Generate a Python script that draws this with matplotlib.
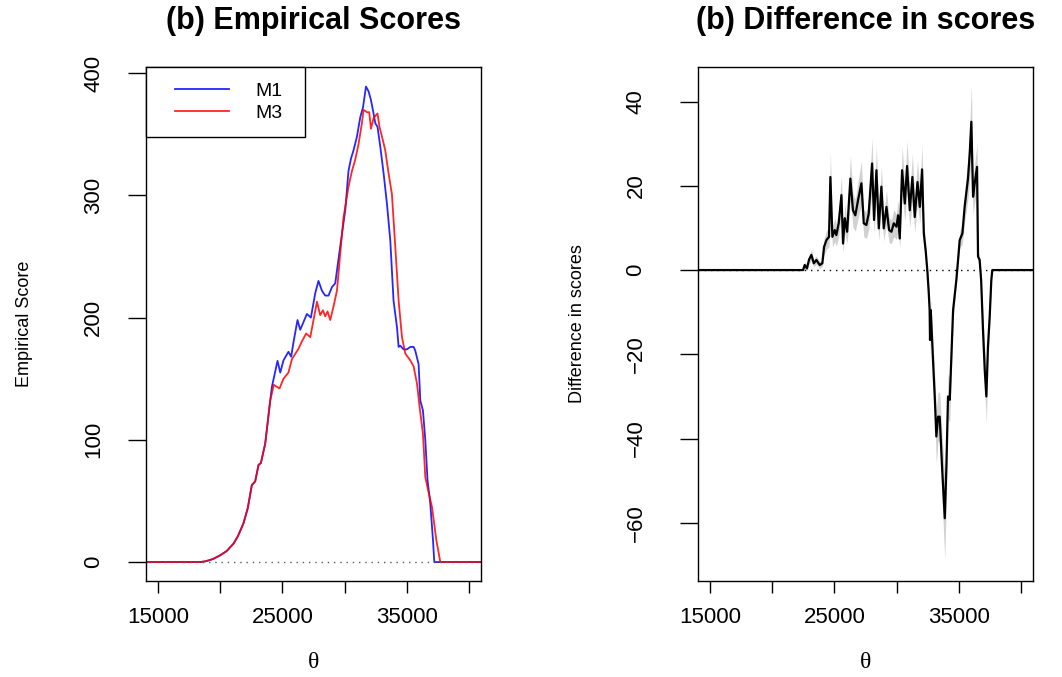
import matplotlib
matplotlib.use("Agg")
import matplotlib.pyplot as plt
from matplotlib.lines import Line2D
from matplotlib.legend_handler import HandlerLine2D

plt.rcParams['font.family'] = ['Liberation Sans', 'DejaVu Sans']

# panel 1: empirical scores for the two models
theta_m1 = [14000, 18360, 18800, 19400, 19980, 20500, 21050, 21400, 21850, 22200,
            22530, 22800, 23070, 23260, 23610,
            24010, 24150, 24600, 24820, 25080, 25480, 25700, 25890, 26210, 26430,
            26970, 27290, 27640, 27900, 28180, 28440, 28710, 28990, 29250, 29650,
            30060, 30320, 30520, 30730, 31000, 31270, 31490, 31730, 31940, 32130,
            32340, 32480, 32660, 32880, 33150, 33420, 33690, 33950, 34230, 34360,
            34490, 34760, 35030, 35300, 35570, 35700, 35970, 36110, 36320, 36510,
            36690, 36910, 37130, 37235, 41000]
score_m1 = [0, 0, 0.6, 2.5, 5.5, 9, 15, 21, 31.5, 44,
            63, 66, 79.5, 81, 97,
            132, 143.5, 164.6, 155, 165, 172, 168, 180, 198, 190,
            203, 200, 220, 230, 222, 218, 218, 225, 228, 258,
            288, 320, 330, 337, 348, 364, 372, 389, 385, 378,
            367, 359, 356, 340, 318, 293, 263, 214, 192, 176,
            177, 174, 174, 176, 176, 173, 162, 132, 124, 100,
            67, 48, 18, 0, 0]

theta_m3 = [14000, 18360, 18800, 19400, 19980, 20500, 21050, 21400, 21850, 22200,
            22530, 22800, 23070, 23260, 23610,
            24010, 24300, 24760, 25080, 25480, 25760, 26290, 26590, 26910, 27240,
            27500, 27780, 28040, 28260, 28440, 28630, 28850, 29110, 29390, 29650,
            29920, 30320, 30600, 30860, 31130, 31400, 31530, 31810, 31990, 32130,
            32340, 32480, 32660, 32820, 33020, 33280, 33550, 33820, 34090, 34360,
            34630, 34900, 35300, 35570, 35840, 36050, 36320, 36510, 36690, 37050,
            37400, 37720, 41000]
score_m3 = [0, 0, 0.6, 2.5, 5.5, 9, 15, 21, 31.5, 44,
            63, 66, 79.5, 81, 97,
            132, 145, 142, 150, 155, 166, 174.5, 181, 187, 184,
            198, 213, 202, 206, 201, 205, 198, 209, 222, 252,
            282, 307, 320, 329, 342, 359, 370, 368, 368, 354.5,
            363, 365, 367, 356, 348, 337, 318, 301, 258, 214,
            184, 170.5, 165, 160, 146, 127, 105, 69.5, 61, 45,
            18, 0, 0]

# panel 2: difference in scores with its band half-width
theta_diff = [14000, 22466, 22600, 22780, 22950, 23140, 23330, 23540, 23810, 24020,
              24160, 24350, 24560, 24670, 24830, 25020, 25150, 25340, 25560, 25690,
              25830, 26020, 26280, 26490, 26680, 26900, 27170, 27360, 27570, 27760,
              28030, 28190, 28380, 28570, 28780, 28970, 29190, 29400, 29590, 29780,
              29990, 30130, 30260, 30450, 30670, 30850, 31070, 31280, 31470, 31690,
              31880, 32060, 32200, 32360, 32500, 32600, 32670, 32700, 32760, 32940,
              33080, 33210, 33350, 33480, 33670, 33890, 34020, 34150, 34290, 34420,
              34560, 34820, 34960, 35090, 35310, 35490, 35760, 35900, 36030, 36170,
              36300, 36490, 36570, 36700, 36820, 36970, 37110, 37240, 37370, 37510,
              37640, 37720, 41000]
score_diff = [0, 0, 1.2, 0.4, 2.5, 3.6, 1.6, 2.4, 1.2, 1.6,
              5.5, 7.1, 7.9, 22.1, 7.9, 9.5, 8.3, 11.1, 17.8, 6.3,
              12.3, 9.1, 21.7, 14.2, 13.0, 16.6, 20.6, 11.1, 10.7, 13.4,
              25.3, 11.9, 23.7, 9.9, 19.8, 9.9, 15.0, 9.5, 9.1, 11.1,
              10.3, 13.0, 7.5, 23.7, 15.8, 24.7, 14.2, 22.1, 12.6, 20.9,
              15.0, 23.9, 8.7, 4.3, -0.8, -5.5, -9.5, -16.6, -9.5, -21.3,
              -30, -39.5, -34.8, -34.8, -46.7, -58.9, -46.7, -30, -30.8, -20.6,
              -9.5, -2.4, 2.4, 7.1, 8.7, 15, 21.7, 27.7, 35.2, 17.4,
              20.6, 24.5, 3.2, 2.4, -2.4, -14.2, -23.7, -30, -18.2, -11,
              -2.4, 0, 0]
diff_halfwidth = [0, 0, 0.8, 0.6, 1.0, 1.2, 0.8, 1.0, 0.8, 0.8,
                  2.0, 2.2, 2.4, 6.0, 2.4, 2.8, 2.6, 3.2, 4.5, 2.2,
                  3.4, 2.8, 5.5, 4.0, 3.8, 4.4, 5.2, 3.2, 3.2, 3.8,
                  6.0, 3.4, 5.8, 3.0, 5.0, 3.0, 4.0, 3.0, 2.8, 3.2,
                  3.0, 3.6, 2.4, 5.8, 4.2, 6.0, 4.0, 5.5, 3.6, 5.2,
                  4.0, 5.8, 2.8, 1.6, 1.0, 1.6, 2.4, 3.6, 2.4, 4.2,
                  5.2, 6.4, 5.8, 5.8, 7.6, 9.8, 7.6, 5.2, 5.2, 4.0,
                  2.4, 1.0, 1.0, 2.0, 2.4, 3.6, 4.8, 6.2, 8.8, 4.2,
                  4.6, 5.4, 1.2, 1.0, 1.0, 3.0, 4.6, 6.2, 3.8, 2.4,
                  1.0, 0, 0]

x_ticks = [15000, 20000, 25000, 30000, 35000, 40000]
x_ticklabels = ['15000', '', '25000', '', '35000', '']
y_ticks_scores = [0, 100, 200, 300, 400]
y_ticks_diff = [-60, -40, -20, 0, 20, 40]

fig = plt.figure(figsize=(10.62, 6.77), dpi=100)
ax1 = fig.add_axes([146 / 1062, 96 / 677, 335 / 1062, 514 / 677])
ax2 = fig.add_axes([698 / 1062, 96 / 677, 335 / 1062, 514 / 677])

# left panel
ax1.plot(theta_m1, score_m1, color='blue', lw=1.3, alpha=0.85, label='M1')
ax1.plot(theta_m3, score_m3, color='red', lw=1.3, alpha=0.85, label='M3')
ax1.axhline(0, color='0.35', lw=1, ls=(0, (1, 3.5)))
ax1.set_ylim(-15.5, 405)
ax1.set_yticks(y_ticks_scores)
ax1.set_ylabel('Empirical Score', fontsize=13)
ax1.yaxis.set_label_coords(-0.364, 0.5)
ax1.set_title('(b) Empirical Scores', fontsize=22, fontweight='bold', pad=27)
ax1.tick_params(axis='y', pad=17)

leg = ax1.legend(loc='upper left', bbox_to_anchor=(0, 0, 0.4746, 1), mode='expand',
                 borderaxespad=0, fontsize=14, handlelength=3.5, handletextpad=1.34,
                 borderpad=0.77, labelspacing=0.25, fancybox=False, framealpha=1,
                 edgecolor='black', handler_map={Line2D: HandlerLine2D(xpad=0.72)})
leg.get_frame().set_linewidth(1.0)

# right panel
lower = [s - h for s, h in zip(score_diff, diff_halfwidth)]
upper = [s + h for s, h in zip(score_diff, diff_halfwidth)]
ax2.fill_between(theta_diff, lower, upper, color='0.82', lw=0)
ax2.plot(theta_diff, score_diff, color='black', lw=1.6)
ax2.axhline(0, color='black', lw=1, ls=(0, (1, 3.5)))
ax2.set_ylim(-73.8, 48.2)
ax2.set_yticks(y_ticks_diff)
ax2.set_ylabel('Difference in scores', fontsize=13)
ax2.yaxis.set_label_coords(-0.361, 0.5)
ax2.set_title('(b) Difference in scores', fontsize=22, fontweight='bold', pad=27)
ax2.tick_params(axis='y', pad=24)

for ax in (ax1, ax2):
    ax.set_xlim(14000, 41000)
    ax.set_xticks(x_ticks)
    ax.set_xticklabels(x_ticklabels)
    ax.tick_params(axis='x', direction='out', length=8.4, width=1, pad=10, labelsize=16)
    ax.tick_params(axis='y', direction='out', length=13, width=1, labelsize=16)
    plt.setp(ax.get_yticklabels(), rotation=90, va='center')
    for sp in ax.spines.values():
        sp.set_linewidth(1.0)
        sp.set_color('black')
    ax.set_xlabel('θ', family='Liberation Serif', fontsize=17)
    ax.xaxis.set_label_coords(0.5, -0.1595)
    ax.xaxis.label.set_va('center')
    ax.yaxis.label.set_va('center')

fig.savefig('out.png', dpi=100)
